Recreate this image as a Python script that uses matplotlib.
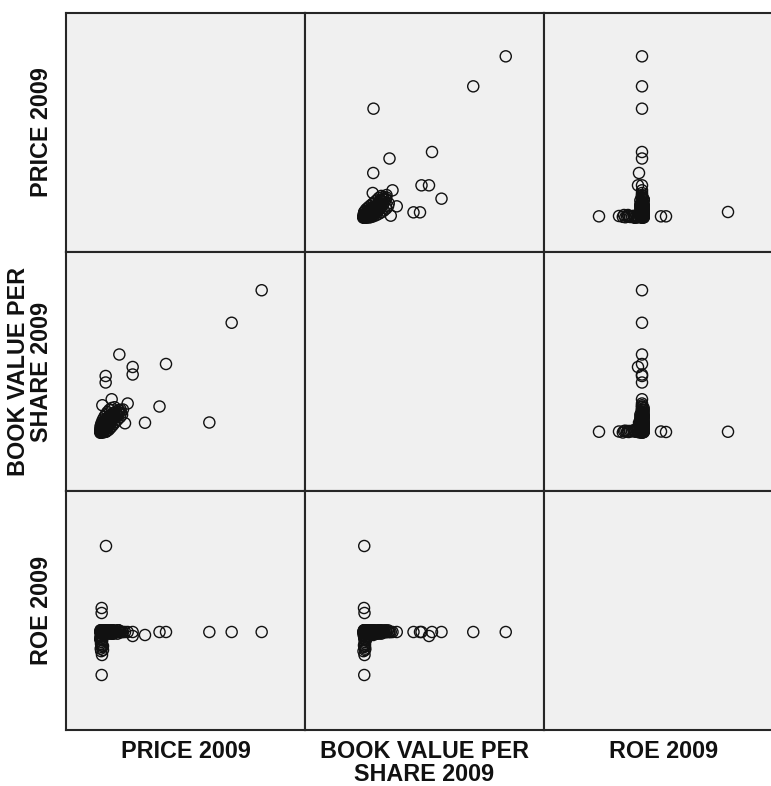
import matplotlib
matplotlib.use("Agg")
import matplotlib.pyplot as plt

plt.rcParams['font.family'] = ['Liberation Sans', 'DejaVu Sans']

variables = ["PRICE 2009", "BOOK VALUE PER\nSHARE 2009", "ROE 2009"]

# outliers / distinct observations
price_out = [206.0, 170.0, 143.2, 91.2, 83.4, 66.0, 51.2, 51.2, 35.2, 18.8, 18.8,
             26.0, 45.2, 14.8, 19.2, 14.0, 14.0, 15.6, 15.6, 14.4, 14.0, 42.0]
bvps_out = [120.6, 94.6, 14.8, 61.6, 27.6, 14.6, 59.2, 53.2, 69.2, 52.0, 46.8,
            33.4, 30.0, 28.6, 7.4, 7.2, 7.6, 8.0, 8.0, 7.6, 7.4, 14.2]
roe_out = [0.10, 0.10, 0.10, 0.10, 0.10, 0.082, 0.076, 0.10, 0.10, 0.10, 0.10,
           0.10, 0.10, 0.10, 0.616, 0.244, 0.214, 0.016, -0.008, -0.038, -0.158, 0.10]

# dense cluster of typical companies
price_cl = [12.4, 12.9, 13.3, 13.8, 12.6, 14.2, 13.1, 14.9, 15.4, 13.6, 16.0, 14.5,
            16.8, 15.2, 17.5, 12.8, 18.1, 16.3, 13.9, 18.9, 17.0, 19.6, 15.8, 20.4,
            18.4, 14.7, 21.2, 19.3, 22.0, 17.6, 23.1, 20.8, 24.0, 16.5, 25.3, 22.6,
            26.4, 19.9, 27.8, 24.7, 29.0, 21.5, 30.5, 26.9, 32.0, 23.8, 33.6, 28.8,
            35.0, 31.2, 37.0, 34.2, 39.5, 13.0, 12.5, 13.6, 14.1, 12.9, 13.4, 14.6,
            12.7, 13.2, 14.0,
            16.0, 18.5, 20.5, 22.5, 24.5, 26.5, 28.5, 30.5, 33.0, 36.0, 38.5,
            12.6, 13.4, 14.4, 15.6, 17.2, 19.0, 21.0, 23.4, 26.0, 29.5,
            15.0, 17.0, 19.5, 21.8, 24.2, 26.2, 28.0, 30.8, 34.0, 36.8,
            18.0, 20.0, 22.5, 25.0, 14.0, 16.2, 18.8, 21.0, 13.5, 12.3]
bvps_cl = [6.6, 7.3, 6.9, 8.0, 7.9, 7.1, 8.6, 8.8, 7.6, 9.4, 9.6, 10.2,
           8.4, 11.0, 10.6, 9.8, 11.6, 12.2, 11.4, 12.8, 13.4, 11.9, 13.0, 14.0,
           14.6, 12.6, 13.2, 15.4, 15.8, 16.0, 14.8, 16.8, 17.4, 15.0, 16.2, 18.2,
           18.8, 17.6, 17.8, 19.6, 20.2, 19.0, 19.4, 21.0, 21.8, 20.4, 20.6, 22.4,
           23.0, 23.6, 22.2, 24.6, 25.2, 7.0, 7.4, 7.8, 7.2, 8.2, 6.8, 8.4,
           7.6, 8.0, 7.5,
           6.8, 7.4, 8.2, 9.0, 10.5, 12.0, 13.6, 15.2, 17.0, 19.0, 21.0,
           11.6, 13.4, 15.2, 17.2, 19.2, 21.4, 23.2, 25.0, 26.4, 27.0,
           9.2, 11.0, 13.6, 15.0, 16.6, 19.2, 18.6, 21.4, 22.8, 25.0,
           9.0, 10.6, 12.4, 14.2, 12.0, 14.4, 16.8, 18.4, 10.4, 8.8]
roe_cl = [0.10, 0.11, 0.09, 0.10, 0.10, 0.11, 0.10, 0.09, 0.10, 0.11, 0.10, 0.10,
          0.11, 0.10, 0.09, 0.10, 0.10, 0.11, 0.10, 0.10, 0.09, 0.11, 0.10, 0.10,
          0.10, 0.11, 0.10, 0.09, 0.10, 0.10, 0.11, 0.10, 0.10, 0.10, 0.09, 0.10,
          0.11, 0.10, 0.10, 0.10, 0.11, 0.10, 0.10, 0.09, 0.10, 0.10, 0.11, 0.10,
          0.10, 0.10, 0.10, 0.11, 0.10, 0.08, 0.06, 0.04, 0.02, 0.0, -0.015, 0.05,
          0.07, 0.03, 0.01,
          0.10, 0.11, 0.10, 0.09, 0.10, 0.11, 0.10, 0.10, 0.09, 0.10, 0.10,
          0.11, 0.10, 0.09, 0.10, 0.11, 0.10, 0.10, 0.10, 0.11, 0.10,
          0.10, 0.09, 0.10, 0.11, 0.10, 0.10, 0.09, 0.10, 0.11, 0.10,
          0.10, 0.11, 0.10, 0.10, 0.09, 0.10, 0.11, 0.10, 0.075, 0.055]

price = price_out + price_cl
bvps = bvps_out + bvps_cl
roe = roe_out + roe_cl

data = [price, bvps, roe]
limits = [(-28.8, 258.0), (-40.0, 151.2), (-0.488, 0.946)]

W, H = 771, 786
fig = plt.figure(figsize=(W / 100, H / 100), dpi=100)

left, top, cell = 66, 13, 239
bg = '#F0F0F0'
border = '#262626'

for r in range(3):
    for c in range(3):
        x0 = left + c * cell
        y0 = top + (r + 1) * cell
        ax = fig.add_axes([x0 / W, (H - y0) / H, cell / W, cell / H])
        ax.set_facecolor(bg)
        ax.set_xlim(*limits[c])
        ax.set_ylim(*limits[r])
        ax.set_xticks([])
        ax.set_yticks([])
        for s in ax.spines.values():
            s.set_color(border)
            s.set_linewidth(1.5)
        if r != c:
            ax.scatter(data[c], data[r], s=64, facecolors='none',
                       edgecolors='#111111', linewidths=1.0, clip_on=True)

fs = 16.8
# row labels (left)
for r, lab in enumerate(variables):
    yc = top + r * cell + cell / 2
    fig.text(53 / W, 1 - yc / H, lab, rotation=90, ha='right', va='center',
             fontsize=fs, fontweight='bold', multialignment='center',
             linespacing=1.0, color='#111111')
# column labels (bottom)
for c, lab in enumerate(variables):
    xc = left + c * cell + cell / 2
    fig.text(xc / W, 1 - 740 / H, lab, ha='center', va='top',
             fontsize=fs, fontweight='bold', multialignment='center',
             linespacing=1.0, color='#111111')

fig.savefig("out.png", dpi=100)
